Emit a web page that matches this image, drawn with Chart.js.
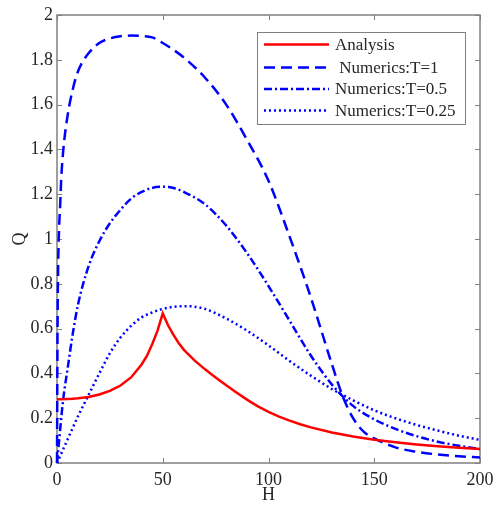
<!DOCTYPE html>
<html>
<head>
<meta charset="utf-8">
<script src="https://cdn.jsdelivr.net/npm/chart.js@4.4.0/dist/chart.umd.min.js"></script>
<style>
  html, body { margin: 0; padding: 0; background: #fff; }
  #wrap { width: 495px; height: 506px; }
</style>
</head>
<body>
<div id="wrap"><canvas id="myChart" width="495" height="506"></canvas></div>
<script>
// values
const seriesNames = ['Analysis', ' Numerics:T=1', 'Numerics:T=0.5', 'Numerics:T=0.25'];

const hAnalysis = [0, 2, 5, 7.5, 10, 15, 20, 25, 30, 35, 40, 42.5, 45, 47.5, 50, 52.5, 55, 57.5, 60, 65, 70, 75, 80, 85, 90, 95, 100, 105, 110, 115, 120, 130, 140, 150, 160, 170, 180, 190, 200];
const qAnalysis = [0.285, 0.285, 0.286, 0.287, 0.289, 0.295, 0.306, 0.322, 0.346, 0.382, 0.44, 0.478, 0.53, 0.59, 0.668, 0.615, 0.573, 0.536, 0.505, 0.458, 0.418, 0.382, 0.347, 0.314, 0.282, 0.253, 0.228, 0.207, 0.189, 0.173, 0.159, 0.136, 0.118, 0.104, 0.093, 0.083, 0.075, 0.068, 0.062];

const hT1 = [0, 0.25, 0.5, 1, 1.5, 2, 3, 5, 7.5, 10, 15, 20, 25, 30, 35, 40, 45, 50, 55, 60, 70, 80, 90, 100, 110, 120, 130, 135, 140, 145, 150, 160, 170, 180, 190, 200];
const qT1 = [0, 0.6, 0.85, 1.05, 1.15, 1.27, 1.40, 1.55, 1.67, 1.75, 1.83, 1.875, 1.895, 1.905, 1.908, 1.906, 1.90, 1.875, 1.845, 1.81, 1.72, 1.60, 1.44, 1.26, 1.01, 0.74, 0.44, 0.30, 0.20, 0.14, 0.11, 0.07, 0.05, 0.038, 0.03, 0.025];

const hT05 = [0, 1, 2, 3, 5, 7.5, 10, 15, 20, 25, 30, 35, 40, 45, 50, 55, 60, 70, 80, 90, 100, 110, 120, 130, 140, 150, 160, 170, 180, 190, 200];
const qT05 = [0, 0.1, 0.2, 0.29, 0.42, 0.58, 0.71, 0.88, 0.99, 1.07, 1.13, 1.18, 1.21, 1.228, 1.233, 1.228, 1.21, 1.155, 1.06, 0.935, 0.79, 0.635, 0.48, 0.35, 0.255, 0.195, 0.152, 0.12, 0.095, 0.077, 0.062];

const hT025 = [0, 5, 10, 15, 20, 25, 30, 35, 40, 45, 50, 55, 60, 65, 70, 80, 90, 100, 110, 120, 130, 140, 150, 160, 170, 180, 190, 200];
const qT025 = [0, 0.105, 0.21, 0.305, 0.40, 0.49, 0.56, 0.612, 0.65, 0.672, 0.688, 0.697, 0.70, 0.698, 0.688, 0.645, 0.59, 0.525, 0.455, 0.39, 0.33, 0.28, 0.235, 0.2, 0.17, 0.145, 0.122, 0.103];

const xTickValues = [0, 50, 100, 150, 200];
const yTickValues = [0, 0.2, 0.4, 0.6, 0.8, 1, 1.2, 1.4, 1.6, 1.8, 2];
const yTickLabels = ['0', '0.2', '0.4', '0.6', '0.8', '1', '1.2', '1.4', '1.6', '1.8', '2'];

const serif = "'Liberation Serif', 'Times New Roman', serif";
const axisGray = '#808080';
const textColor = '#262626';

function pts(h, q) {
    return h.map((x, i) => ({x: x, y: q[i]}));
}

// box around the plot, inward ticks on all four sides, and the legend
const framePlugin = {
    id: 'frame',
    beforeDatasetsDraw(chart) {
        const {ctx, chartArea: a, scales: {x, y}} = chart;
        ctx.save();
        ctx.strokeStyle = axisGray;
        ctx.lineWidth = 1.5;
        ctx.strokeRect(a.left, a.top, a.right - a.left, a.bottom - a.top);
        ctx.lineWidth = 1;
        ctx.beginPath();
        x.ticks.forEach(t => {
            const px = Math.round(x.getPixelForValue(t.value)) + 0.5;
            ctx.moveTo(px, a.bottom); ctx.lineTo(px, a.bottom - 5);
            ctx.moveTo(px, a.top); ctx.lineTo(px, a.top + 5);
        });
        y.ticks.forEach(t => {
            const py = Math.round(y.getPixelForValue(t.value)) + 0.5;
            ctx.moveTo(a.left, py); ctx.lineTo(a.left + 5, py);
            ctx.moveTo(a.right, py); ctx.lineTo(a.right - 5, py);
        });
        ctx.stroke();
        ctx.restore();
    },
    afterDatasetsDraw(chart) {
        const ctx = chart.ctx;
        const bx = 257, by = 32, bw = 208, bh = 92;
        const rows = [44.5, 67.5, 89, 110.5];
        ctx.save();
        ctx.fillStyle = '#fff';
        ctx.fillRect(bx, by, bw, bh);
        ctx.strokeStyle = axisGray;
        ctx.lineWidth = 1;
        ctx.strokeRect(bx + 0.5, by + 0.5, bw, bh);
        chart.data.datasets.forEach((ds, i) => {
            ctx.beginPath();
            ctx.strokeStyle = ds.borderColor;
            ctx.lineWidth = ds.borderWidth;
            ctx.setLineDash(ds.borderDash || []);
            ctx.moveTo(264, rows[i]);
            ctx.lineTo(329, rows[i]);
            ctx.stroke();
            ctx.setLineDash([]);
            ctx.fillStyle = textColor;
            ctx.font = '17px ' + serif;
            ctx.textBaseline = 'middle';
            ctx.textAlign = 'left';
            ctx.fillText(ds.label, 335, rows[i] + 1);
        });
        ctx.restore();
    }
};

const ctx = document.getElementById('myChart').getContext('2d');
new Chart(ctx, {
    type: 'line',
    data: {
        datasets: [
            {
                label: seriesNames[0],
                data: pts(hAnalysis, qAnalysis),
                borderColor: '#ff0000',
                borderWidth: 2.5,
                tension: 0
            },
            {
                label: seriesNames[1],
                data: pts(hT1, qT1),
                borderColor: '#0000ff',
                borderWidth: 2.5,
                borderDash: [11, 6],
                cubicInterpolationMode: 'monotone'
            },
            {
                label: seriesNames[2],
                data: pts(hT05, qT05),
                borderColor: '#0000ff',
                borderWidth: 2.5,
                borderDash: [8, 3, 2, 3],
                cubicInterpolationMode: 'monotone'
            },
            {
                label: seriesNames[3],
                data: pts(hT025, qT025),
                borderColor: '#0000ff',
                borderWidth: 2.5,
                borderDash: [2, 3],
                cubicInterpolationMode: 'monotone'
            }
        ]
    },
    options: {
        responsive: false,
        animation: false,
        clip: false,
        elements: { point: { radius: 0 } },
        layout: { padding: { top: 15, right: 15, left: 0, bottom: 0 } },
        plugins: { legend: { display: false }, tooltip: { enabled: false } },
        scales: {
            x: {
                type: 'linear',
                min: 0,
                max: 200,
                afterBuildTicks: s => { s.ticks = xTickValues.map(v => ({value: v})); },
                afterFit: s => { s.height = 43; s.paddingLeft = 0; s.paddingRight = 0; },
                grid: { display: false, drawTicks: false },
                border: { display: false },
                ticks: { padding: 6, color: textColor, font: { family: serif, size: 18 } },
                title: { display: true, text: 'H', color: textColor, padding: 0, font: { family: serif, size: 18 } }
            },
            y: {
                type: 'linear',
                min: 0,
                max: 2,
                afterBuildTicks: s => { s.ticks = yTickValues.map(v => ({value: v})); },
                afterFit: s => { s.width = 57; s.paddingTop = 0; s.paddingBottom = 0; },
                grid: { display: false, drawTicks: false },
                border: { display: false },
                ticks: {
                    padding: 4,
                    color: textColor,
                    font: { family: serif, size: 18 },
                    callback: (v, i) => yTickLabels[i]
                },
                title: { display: true, text: 'Q', color: textColor, padding: { top: 9, bottom: 0 }, font: { family: serif, size: 18 } }
            }
        }
    },
    plugins: [framePlugin]
});
</script>
</body>
</html>
